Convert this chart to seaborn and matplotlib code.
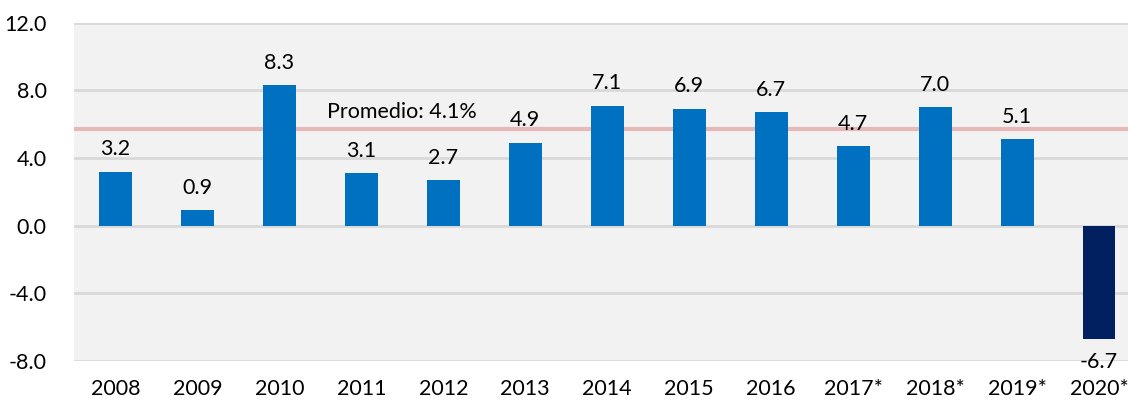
import pandas as pd
import seaborn as sns
import matplotlib.pyplot as plt
import numpy as np

# Data
years = ['2008', '2009', '2010', '2011', '2012', '2013', '2014',
         '2015', '2016', '2017*', '2018*', '2019*', '2020*']
growth = [3.2, 0.9, 8.3, 3.1, 2.7, 4.9, 7.1, 6.9, 6.7, 4.7, 7.0, 5.1, -6.7]
bar_colors = ['#0070c0'] * 12 + ['#002060']
avg_line = 5.7
avg_label = 'Promedio: 4.1%'
y_ticks = [-8.0, -4.0, 0.0, 4.0, 8.0, 12.0]

df = pd.DataFrame({'year': years, 'growth': growth})

sns.set_style('white')
plt.rcParams['font.family'] = ['Lato', 'DejaVu Sans']

fig = plt.figure(figsize=(11.28, 4), dpi=100)
ax = fig.add_axes([0.066, 0.0975, 0.9447, 0.8457])
ax.set_facecolor('#f2f2f2')

sns.barplot(data=df, x='year', y='growth', hue='year', palette=bar_colors,
            width=0.4, legend=False, ax=ax, zorder=3, saturation=1,
            linewidth=0, edgecolor='none')

# gridlines
ax.set_ylim(-8, 12)
ax.set_yticks(y_ticks)
ax.set_yticklabels([f'{t:.1f}' for t in y_ticks])
ax.grid(axis='y', color='#d9d9d9', linewidth=2, zorder=0)
ax.set_axisbelow(True)
for s in ax.spines.values():
    s.set_visible(False)

# average line
ax.axhline(avg_line, color='#e6b8b7', linewidth=3, zorder=2)
ax.text(3.5, 6.75, avg_label, ha='center', va='center', fontsize=15.5, color='#000000')

# value labels
for c in ax.containers:
    ax.bar_label(c, fmt='%.1f', padding=9, fontsize=15.5, color='#000000')

ax.set_xlim(-0.5, 12.5)
ax.set_xlabel('')
ax.set_ylabel('')
ax.tick_params(axis='both', length=0, labelsize=15.5, colors='#000000')
ax.tick_params(axis='x', pad=13)
ax.tick_params(axis='y', pad=20)

fig.savefig('out.png', dpi=100)
